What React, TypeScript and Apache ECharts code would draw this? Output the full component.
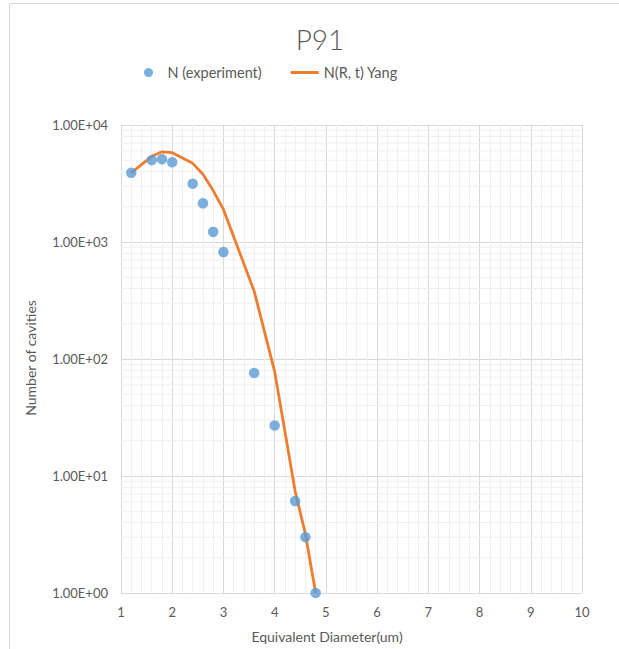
import { useEffect, useRef } from "react";
import * as echarts from "echarts";

const expX = [1.2, 1.6, 1.8, 2.0, 2.4, 2.6, 2.8, 3.0, 3.6, 4.0, 4.4, 4.6, 4.8];
const expN = [3900, 5000, 5100, 4800, 3150, 2140, 1220, 820, 76, 27, 6.1, 3.0, 1.0];
const yangX = [1.2, 1.6, 1.8, 2.0, 2.4, 2.6, 2.8, 3.0, 3.6, 4.0, 4.4, 4.6, 4.8];
const yangN = [3900, 5400, 5900, 5800, 4700, 3800, 2750, 1900, 380, 78, 7.4, 3.2, 1.0];
const yDecades = [1, 10, 100, 1000, 10000];
const yTickLabels = ["1.00E+00", "1.00E+01", "1.00E+02", "1.00E+03", "1.00E+04"];
const minorMultipliers = [2, 3, 4, 5, 6, 7, 8, 9];

const FONT = "Lato, 'Noto Sans', sans-serif";
const TXT = "#595959";

export default function App() {
  const ref = useRef<HTMLDivElement>(null);
  useEffect(() => {
    document.body.style.margin = "0";
    const chart = echarts.init(ref.current!, null, { renderer: "svg" });
    const minorY: number[][] = [];
    yDecades.slice(0, -1).forEach((d) => minorMultipliers.forEach((m) => minorY.push([1, d * m])));
    chart.setOption({
      animation: false,
      backgroundColor: "#ffffff",
      textStyle: { fontFamily: FONT },
      grid: { left: 121, top: 125, right: 37, bottom: 56, containLabel: false },
      legend: {
        data: [
          { name: "N (experiment)", icon: "circle" },
          { name: "N(R, t) Yang", icon: "path://M0 0H28V3H0Z" },
        ],
        left: 139,
        top: 60,
        itemWidth: 28,
        itemHeight: 9,
        itemGap: 29,
        textStyle: { color: TXT, fontSize: 14.5, fontFamily: FONT },
      },
      xAxis: {
        type: "value",
        min: 1,
        max: 10,
        interval: 1,
        axisLine: { show: false },
        axisTick: { show: false },
        axisLabel: { color: TXT, fontSize: 13, margin: 12, fontFamily: FONT },
        splitLine: { show: true, lineStyle: { color: "#d9d9d9", width: 1 } },
        minorTick: { show: false, splitNumber: 5 },
        minorSplitLine: { show: true, lineStyle: { color: "#efefef", width: 1 } },
      },
      yAxis: {
        type: "log",
        logBase: 10,
        min: 1,
        max: 10000,
        axisLine: { show: false },
        axisTick: { show: false },
        axisLabel: {
          color: TXT,
          fontSize: 13,
          margin: 13,
          fontFamily: FONT,
          formatter: (v: number) => {
            const i = yDecades.findIndex((d) => Math.abs(d - v) / d < 1e-6);
            return i >= 0 ? yTickLabels[i] : "";
          },
        },
        splitLine: { show: true, lineStyle: { color: "#d9d9d9", width: 1 } },
      },
      series: [
        {
          type: "custom",
          silent: true,
          z: 1,
          data: minorY,
          renderItem: (params: any, api: any) => {
            const y = api.value(1);
            const p1 = api.coord([1, y]);
            const p2 = api.coord([10, y]);
            return {
              type: "line",
              shape: { x1: p1[0], y1: p1[1], x2: p2[0], y2: p2[1] },
              style: { stroke: "#efefef", lineWidth: 1 },
            };
          },
        },
        {
          name: "N(R, t) Yang",
          type: "line",
          z: 2,
          symbol: "none",
          data: yangX.map((x, i) => [x, yangN[i]]),
          lineStyle: { color: "#ED7D31", width: 2.8 },
          itemStyle: { color: "#ED7D31" },
        },
        {
          name: "N (experiment)",
          type: "scatter",
          z: 3,
          symbol: "circle",
          symbolSize: 10.5,
          data: expX.map((x, i) => [x, expN[i]]),
          itemStyle: { color: "#5B9BD5" },
        },
      ],
      graphic: [
        {
          type: "rect",
          silent: true,
          shape: { x: 9.5, y: 3.5, width: 800, height: 800 },
          style: { fill: "none", stroke: "#d9d9d9", lineWidth: 1 },
        },
        {
          type: "text",
          x: 320,
          y: 39,
          style: {
            text: "P91",
            fill: TXT,
            font: `300 28px ${FONT}`,
            textAlign: "center",
            textVerticalAlign: "middle",
          },
        },
        {
          type: "text",
          x: 327,
          y: 636,
          style: {
            text: "Equivalent Diameter(um)",
            fill: TXT,
            font: `14px ${FONT}`,
            textAlign: "center",
            textVerticalAlign: "middle",
          },
        },
        {
          type: "text",
          x: 30,
          y: 358,
          rotation: Math.PI / 2,
          style: {
            text: "Number of cavities",
            fill: TXT,
            font: `14px ${FONT}`,
            textAlign: "center",
            textVerticalAlign: "middle",
          },
        },
      ],
    });
    return () => chart.dispose();
  }, []);
  return <div ref={ref} style={{ position: "fixed", left: 0, top: 0, width: 619, height: 649 }} />;
}
